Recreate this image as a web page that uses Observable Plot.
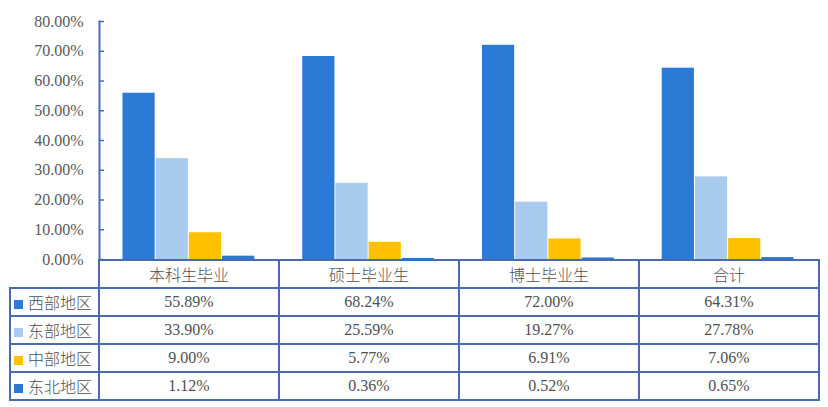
<!DOCTYPE html>
<html><head><meta charset="utf-8">
<script src="https://cdn.jsdelivr.net/npm/d3@7"></script>
<script src="https://cdn.jsdelivr.net/npm/@observablehq/plot@0.6"></script>
<style>
body{margin:0;background:#fff;}
#wrap{position:relative;width:828px;height:407px;overflow:hidden;}
#wrap svg{position:absolute;left:0;top:0;}
#wrap svg text{font-family:"Liberation Serif","Times New Roman","DejaVu Serif",serif;}
table{position:absolute;left:9px;top:259px;width:809px;border-collapse:collapse;table-layout:fixed;font-family:"Liberation Serif","Times New Roman","DejaVu Serif",serif;font-size:16px;color:#505050;}
td{border:2px solid #4A6AB0;height:26px;padding:0;text-align:center;line-height:20px;}
td.lab{text-align:left;padding-left:3px;font-family:"Noto Sans CJK SC",sans-serif;font-weight:300;}
td.hd{font-family:"Noto Sans CJK SC",sans-serif;font-weight:300;}
td.blank{border-top:none;border-left:none;}
.sw{display:inline-block;width:9px;height:9px;margin-right:5px;vertical-align:0px;}
</style></head>
<body>
<div id="wrap"></div>
<script>
const categories = ["本科生毕业", "硕士毕业生", "博士毕业生", "合计"];
const regions = ["西部地区", "东部地区", "中部地区", "东北地区"];
const regionColors = ["#2B7BD6", "#A9CBEE", "#FFC000", "#2B78D2"];
const westValues = [55.89, 68.24, 72.00, 64.31];
const eastValues = [33.90, 25.59, 19.27, 27.78];
const centralValues = [9.00, 5.77, 6.91, 7.06];
const northeastValues = [1.12, 0.36, 0.52, 0.65];
const yTicks = [0, 10, 20, 30, 40, 50, 60, 70, 80];

const series = [westValues, eastValues, centralValues, northeastValues];
const data = [];
categories.forEach((c, ci) => regions.forEach((r, ri) => data.push({category: c, region: r, value: series[ri][ci]})));

const fmt = v => v.toFixed(2) + "%";

const chart = Plot.plot({
  width: 828, height: 272,
  marginLeft: 99, marginRight: 10, marginTop: 21, marginBottom: 13,
  style: {fontFamily: "'Liberation Serif', 'Times New Roman', serif", fontSize: "16px", background: "transparent"},
  fx: {domain: categories, padding: 0, round: false, axis: null},
  x: {domain: regions, paddingInner: 0, paddingOuter: 0.707, round: false, axis: null},
  y: {domain: [0, 80], axis: null},
  color: {domain: regions, range: regionColors},
  marks: [
    Plot.barY(data, {fx: "category", x: "region", y: "value", fill: "region", insetRight: 1}),
    Plot.axisY(yTicks, {anchor: "left", tickSize: -5, tickPadding: 21, tickFormat: fmt, stroke: "#4A6AB8", strokeWidth: 1.5, fill: "#595959", label: null}),
    Plot.frame({anchor: "left", facetAnchor: "left", stroke: "#4A6AB8", strokeWidth: 2})
  ]
});
const wrap = document.getElementById("wrap");
wrap.appendChild(chart);

// data table below the chart, aligned with the fx bands
const table = document.createElement("table");
const colg = document.createElement("colgroup");
[89, 180, 180, 180, 180].forEach(w => { const c = document.createElement("col"); c.style.width = w + "px"; colg.appendChild(c); });
table.appendChild(colg);
const hr = document.createElement("tr");
const blank = document.createElement("td"); blank.className = "blank"; hr.appendChild(blank);
categories.forEach(c => { const td = document.createElement("td"); td.className = "hd"; td.textContent = c; hr.appendChild(td); });
table.appendChild(hr);
regions.forEach((r, ri) => {
  const tr = document.createElement("tr");
  const lab = document.createElement("td"); lab.className = "lab";
  const sw = document.createElement("span"); sw.className = "sw"; sw.style.background = regionColors[ri];
  lab.appendChild(sw); lab.appendChild(document.createTextNode(r));
  tr.appendChild(lab);
  series[ri].forEach(v => { const td = document.createElement("td"); td.textContent = fmt(v); tr.appendChild(td); });
  table.appendChild(tr);
});
wrap.appendChild(table);
</script>
</body></html>
